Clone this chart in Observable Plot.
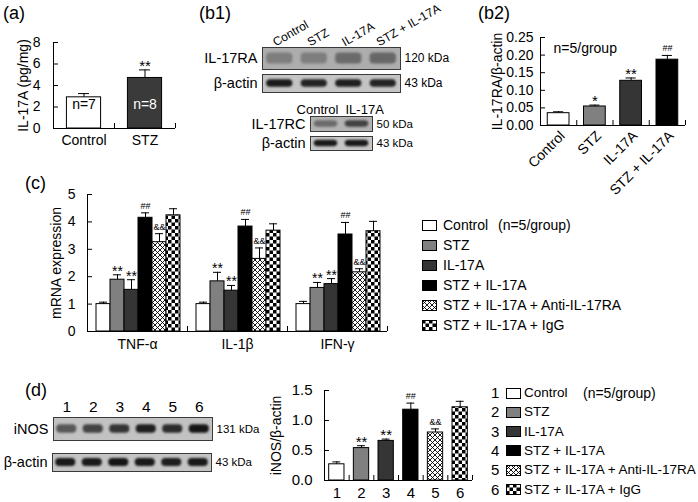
<!DOCTYPE html>
<html><head><meta charset="utf-8">
<script src="https://cdn.jsdelivr.net/npm/d3@7"></script>
<script src="https://cdn.jsdelivr.net/npm/@observablehq/plot@0.6"></script>
<style>
body{margin:0;background:#fff;}
#root{position:relative;width:698px;height:502px;overflow:hidden;background:#fff;font-family:'Liberation Sans',Arial,Helvetica,sans-serif;color:#000;}
.abs{position:absolute;white-space:nowrap;line-height:20px;height:20px;}
</style></head><body>
<svg width="0" height="0" style="position:absolute">
  <defs>
    <pattern id="hatch" patternUnits="userSpaceOnUse" width="5" height="5">
      <rect width="5" height="5" fill="#fff"/>
      <path d="M0,0L5,5M5,0L0,5" stroke="#000" stroke-width="0.9"/>
    </pattern>
    <pattern id="checker" patternUnits="userSpaceOnUse" width="7" height="7">
      <rect width="7" height="7" fill="#fff"/>
      <rect width="3.5" height="3.5" fill="#000"/>
      <rect x="3.5" y="3.5" width="3.5" height="3.5" fill="#000"/>
    </pattern>
  </defs>
</svg>
<div id="root"></div>
<script>
// ---------------- data ----------------
const aGroups = ["Control", "STZ"];
const aValues = [2.9, 4.7];
const aErrors = [0.35, 0.75];
const aN = ["n=7", "n=8"];
const aSig = ["", "**"];
const aTicks = [0, 2, 4, 6, 8];

const b2Groups = ["Control", "STZ", "IL-17A", "STZ + IL-17A"];
const b2Values = [0.035, 0.054, 0.127, 0.187];
const b2Errors = [0.004, 0.004, 0.008, 0.012];
const b2Sig = ["", "*", "**", "##"];
const b2Ticks = [0, 0.05, 0.10, 0.15, 0.20, 0.25];

const cGenes = ["TNF-α", "IL-1β", "IFN-γ"];
const cSeries = ["Control", "STZ", "IL-17A", "STZ + IL-17A", "STZ + IL-17A + Anti-IL-17RA", "STZ + IL-17A + IgG"];
const cValues = [
  [1.0, 1.89, 1.52, 4.15, 3.26, 4.24],
  [1.0, 1.83, 1.49, 3.83, 2.65, 3.68],
  [1.0, 1.59, 1.73, 3.54, 2.16, 3.66]
];
const cErrors = [
  [0.07, 0.18, 0.37, 0.18, 0.31, 0.24],
  [0.07, 0.33, 0.19, 0.26, 0.40, 0.25],
  [0.10, 0.20, 0.20, 0.44, 0.13, 0.36]
];
const cSig = ["", "**", "**", "##", "&&", ""];
const cTicks = [0, 1, 2, 3, 4, 5];

const dLanes = ["1", "2", "3", "4", "5", "6"];
const dValues = [0.27, 0.54, 0.66, 1.18, 0.80, 1.22];
const dErrors = [0.04, 0.04, 0.03, 0.11, 0.06, 0.10];
const dSig = ["", "**", "**", "##", "&&", ""];
const dTicks = [0, 0.5, 1.0, 1.5];

// blot band intensities (0 = background, 1 = darkest)
const b1Cols = ["Control", "STZ", "IL-17A", "STZ + IL-17A"];
const il17raBands = [0.42, 0.42, 0.58, 0.62];
const actinB1Bands = [0.95, 0.9, 0.92, 0.9];
const rcCols = ["Control", "IL-17A"];
const il17rcBands = [0.5, 0.78];
const actinRcBands = [0.95, 0.95];
const inosBands = [0.6, 0.72, 0.8, 0.92, 0.85, 0.97];
const actinDBands = [0.95, 0.95, 0.97, 0.95, 0.93, 0.95];

// styles
const seriesFills = ["#ffffff", "#808080", "#353535", "#000000", "url(#hatch)", "url(#checker)"];
const aFills = ["#ffffff", "#3a3a3a"];
const aNColors = ["#000000", "#ffffff"];

// ---------------- helpers ----------------
const root = document.getElementById("root");
const FONT = "'Liberation Sans', Arial, Helvetica, sans-serif";
const baseStyle = {fontFamily: FONT, fontSize: "14px", background: "none", overflow: "visible", color: "#000"};
function place(node, left, top) {
  node.style.position = "absolute";
  node.style.left = left + "px";
  node.style.top = top + "px";
  root.appendChild(node);
  return node;
}
function addText(str, x, yc, fs) {
  const d = document.createElement("div");
  d.className = "abs";
  d.textContent = str;
  d.style.fontSize = fs + "px";
  d.style.left = x + "px";
  d.style.top = (yc - 10) + "px";
  root.appendChild(d);
}
function barMarks(rows, pad, capHalf) {
  return [
    Plot.rect(rows, {x1: d => d.x0 + pad, x2: d => d.x0 + d.w - pad, y1: 0, y2: "v", fill: "fill", stroke: "#000", strokeWidth: 1}),
    Plot.ruleX(rows, {x: d => d.x0 + d.w / 2, y1: "v", y2: d => d.v + d.e, stroke: "#000"}),
    Plot.ruleY(rows, {y: d => d.v + d.e, x1: d => d.x0 + d.w / 2 - capHalf, x2: d => d.x0 + d.w / 2 + capHalf, stroke: "#000"})
  ];
}
function sigMarks(rows, bigSize, smallSize) {
  return [
    Plot.text(rows.filter(d => d.sig.startsWith("*")), {x: d => d.x0 + d.w / 2, y: d => d.v + d.e, text: "sig", lineAnchor: "bottom", dy: 1, fontSize: bigSize}),
    Plot.text(rows.filter(d => d.sig && !d.sig.startsWith("*")), {x: d => d.x0 + d.w / 2, y: d => d.v + d.e, text: "sig", lineAnchor: "bottom", dy: -4, fontSize: smallSize})
  ];
}
function axisMarks({ticks, fmt, tickPad, labels, labelPad, fs, boundaries}) {
  const marks = [
    Plot.ruleX([0], {stroke: "#000"}),
    Plot.ruleY([0], {stroke: "#000"}),
    Plot.axisY({ticks, tickSize: -5, tickPadding: tickPad, tickFormat: fmt, fontSize: fs, label: null}),
    Plot.axisX({ticks: boundaries, tickSize: -5, tickFormat: () => "", label: null})
  ];
  if (labels) marks.push(Plot.axisX({ticks: labels.map((_, i) => i + 0.5), tickSize: 0, tickPadding: labelPad, tickFormat: d => labels[Math.floor(d)], fontSize: fs, label: null}));
  return marks;
}
function yLabel(text, dx, fs) {
  return Plot.text([text], {text: d => d, frameAnchor: "left", textAnchor: "middle", lineAnchor: "middle", rotate: -90, dx, fontSize: fs});
}

// ---------------- panel labels ----------------
addText("(a)", 3, 12.5, 18);
addText("(b1)", 199, 12.5, 18);
addText("(b2)", 478, 12.5, 18);
addText("(c)", 25, 183, 18);
addText("(d)", 25, 390, 18);

// ---------------- (a) ----------------
const aRows = aGroups.map((g, i) => ({x0: i, w: 1, v: aValues[i], e: aErrors[i], fill: aFills[i], n: aN[i], ncol: aNColors[i], sig: aSig[i]}));
place(Plot.plot({
  width: 200, height: 160, marginLeft: 53, marginRight: 25, marginTop: 42, marginBottom: 32,
  style: baseStyle, x: {domain: [0, aGroups.length]}, y: {domain: [0, 8]}, color: {type: "identity"},
  marks: [
    ...barMarks(aRows, 0.22, 0.09),
    ...axisMarks({ticks: aTicks, fmt: d3.format("d"), tickPad: 18, labels: aGroups, labelPad: 7, fs: 14, boundaries: [1, 2]}),
    Plot.text(aRows, {x: d => d.x0 + 0.5, frameAnchor: "bottom", dy: -20, text: "n", fill: "ncol", fontSize: 14}),
    ...sigMarks(aRows, 15, 9),
    yLabel("IL-17A (pg/mg)", -30, 14)
  ]
}), 0, 0);

// ---------------- (b2) ----------------
const b2Rows = b2Groups.map((g, i) => ({x0: i, w: 1, label: g, v: b2Values[i], e: b2Errors[i], fill: seriesFills[i], sig: b2Sig[i]}));
place(Plot.plot({
  width: 208, height: 170, marginLeft: 50, marginRight: 13, marginTop: 37, marginBottom: 45,
  style: baseStyle, x: {domain: [0, b2Groups.length]}, y: {domain: [0, 0.25]}, color: {type: "identity"},
  marks: [
    ...barMarks(b2Rows, 0.2, 0.14),
    ...axisMarks({ticks: b2Ticks, fmt: d3.format(".2f"), tickPad: 12, labels: null, fs: 14, boundaries: [1, 2, 3, 4]}),
    Plot.text(b2Rows, {x: d => d.x0 + 0.5, y: 0, text: "label", rotate: -45, textAnchor: "end", dx: 4, dy: 8, fontSize: 14}),
    ...sigMarks(b2Rows, 15, 9),
    Plot.text(["n=5/group"], {text: d => d, frameAnchor: "top-left", textAnchor: "start", dx: 13, dy: 6, fontSize: 14}),
    yLabel("IL-17RA/β-actin", -43, 14)
  ]
}), 490, 0);

// ---------------- (c) ----------------
const C_IN = 0.09, C_BW = 0.14;
const cRows = [];
cGenes.forEach((g, gi) => cSeries.forEach((s, si) => cRows.push({
  x0: gi + C_IN + si * C_BW, w: C_BW, v: cValues[gi][si], e: cErrors[gi][si], fill: seriesFills[si], sig: cSig[si]
})));
place(Plot.plot({
  width: 400, height: 200, marginLeft: 87, marginRight: 13, marginTop: 24, marginBottom: 39,
  style: baseStyle, x: {domain: [0, cGenes.length]}, y: {domain: [0, 5]}, color: {type: "identity"},
  marks: [
    ...barMarks(cRows, 0, 0.04),
    ...axisMarks({ticks: cTicks, fmt: d3.format("d"), tickPad: 17, labels: cGenes, labelPad: 8, fs: 14, boundaries: [1, 2, 3]}),
    ...sigMarks(cRows, 14, 9),
    yLabel("mRNA expression", -31, 14)
  ]
}), 0, 170);

// ---------------- (d) chart ----------------
const dRows = dLanes.map((g, i) => ({x0: i, w: 1, v: dValues[i], e: dErrors[i], fill: seriesFills[i], sig: dSig[i]}));
place(Plot.plot({
  width: 210, height: 122, marginLeft: 44, marginRight: 18, marginTop: 10, marginBottom: 22,
  style: baseStyle, x: {domain: [0, dLanes.length]}, y: {domain: [0, 1.5]}, color: {type: "identity"},
  marks: [
    ...barMarks(dRows, 0.19, 0.16),
    ...axisMarks({ticks: dTicks, fmt: d3.format(".1f"), tickPad: 17, labels: dLanes, labelPad: 7, fs: 15, boundaries: [1, 2, 3, 4, 5, 6]}),
    ...sigMarks(dRows, 15, 9),
    yLabel("iNOS/β-actin", -48, 14)
  ]
}), 280, 380);

// ---------------- blots ----------------
function blot({bands, w, h, bg, ink, bandH, rowLabel, kda, cols, colRotate, colDx, colDy, colSize, colSplit, kdaSize}) {
  const lanes = bands.map((v, i) => ({i, v}));
  const marks = [
    Plot.frame({fill: bg, stroke: "#3a3a3a"}),
    Plot.rect(lanes, {x1: d => d.i + 0.12, x2: d => d.i + 0.88, y1: 0.5 - bandH / 2, y2: 0.5 + bandH / 2,
      fill: d => d3.interpolateRgb(bg, ink)(d.v), rx: 4, imageFilter: "blur(0.9px)"}),
    Plot.text([rowLabel], {text: d => d, frameAnchor: "left", textAnchor: "end", dx: -5, fontSize: 14.5}),
    Plot.text([kda], {text: d => d, frameAnchor: "right", textAnchor: "start", dx: 4, fontSize: kdaSize || 11.5})
  ];
  if (cols && colSplit) {
    // two column labels set either side of the lane boundary
    marks.push(Plot.text(cols.slice(0, 1), {x: 1, y: 1, text: d => d, textAnchor: "end", lineAnchor: "bottom", dx: -3, dy: colDy, fontSize: colSize}));
    marks.push(Plot.text(cols.slice(1), {x: 1, y: 1, text: d => d, textAnchor: "start", lineAnchor: "bottom", dx: 4, dy: colDy, fontSize: colSize}));
  } else if (cols) {
    marks.push(Plot.text(cols, {x: (d, i) => i + 0.5, y: 1, text: d => d, rotate: colRotate || 0,
      textAnchor: colRotate ? "start" : "middle", lineAnchor: "bottom", dx: colDx || 0, dy: colDy || -3, fontSize: colSize || 14}));
  }
  return Plot.plot({
    width: w, height: h, margin: 0, style: baseStyle, color: {type: "identity"},
    x: {domain: [0, bands.length], axis: null}, y: {domain: [0, 1], axis: null},
    marks
  });
}
place(blot({bands: il17raBands, w: 138, h: 22, bg: "#adadad", ink: "#3c3c3c", bandH: 0.5, rowLabel: "IL-17RA", kda: "120 kDa",
  cols: b1Cols, colRotate: -30, colDx: -4, colDy: -1, colSize: 12, kdaSize: 12}), 262, 47);
place(blot({bands: actinB1Bands, w: 138, h: 18, bg: "#c4c4c4", ink: "#111", bandH: 0.42, rowLabel: "β-actin", kda: "43 kDa", kdaSize: 12}), 262, 74);
place(blot({bands: il17rcBands, w: 62, h: 15, bg: "#b3b3b3", ink: "#222", bandH: 0.42, rowLabel: "IL-17RC", kda: "50 kDa",
  cols: rcCols, colSplit: true, colDy: -3, colSize: 13}), 310, 116);
place(blot({bands: actinRcBands, w: 62, h: 14, bg: "#c6c6c6", ink: "#111", bandH: 0.45, rowLabel: "β-actin", kda: "43 kDa"}), 310, 136);
place(blot({bands: inosBands, w: 159, h: 23, bg: "#c2c2c2", ink: "#111", bandH: 0.38, rowLabel: "iNOS", kda: "131 kDa",
  cols: dLanes, colDy: -6, colSize: 15.5}), 53, 417);
place(blot({bands: actinDBands, w: 159, h: 18, bg: "#c4c4c4", ink: "#111", bandH: 0.45, rowLabel: "β-actin", kda: "43 kDa"}), 52, 453);

// ---------------- legends ----------------
const svgNS = "http://www.w3.org/2000/svg";
function swatch(fill, x, yc) {
  const s = document.createElementNS(svgNS, "svg");
  s.setAttribute("width", 15); s.setAttribute("height", 11);
  const r = document.createElementNS(svgNS, "rect");
  r.setAttribute("x", 0.5); r.setAttribute("y", 0.5); r.setAttribute("width", 14); r.setAttribute("height", 10);
  r.setAttribute("fill", fill); r.setAttribute("stroke", "#000");
  s.appendChild(r);
  place(s, x, yc - 5.5);
}
cSeries.forEach((s, i) => {
  const yc = 225 + i * 20;
  swatch(seriesFills[i], 422, yc);
  addText(s, 443, yc, 14);
});
addText("(n=5/group)", 498, 225, 14);
cSeries.forEach((s, i) => {
  const yc = 393 + i * 19.3;
  addText(dLanes[i], 491, yc, 15);
  swatch(seriesFills[i], 506, yc);
  addText(s, 524, yc, 13.5);
});
addText("(n=5/group)", 583, 393, 14);
</script>
</body></html>
